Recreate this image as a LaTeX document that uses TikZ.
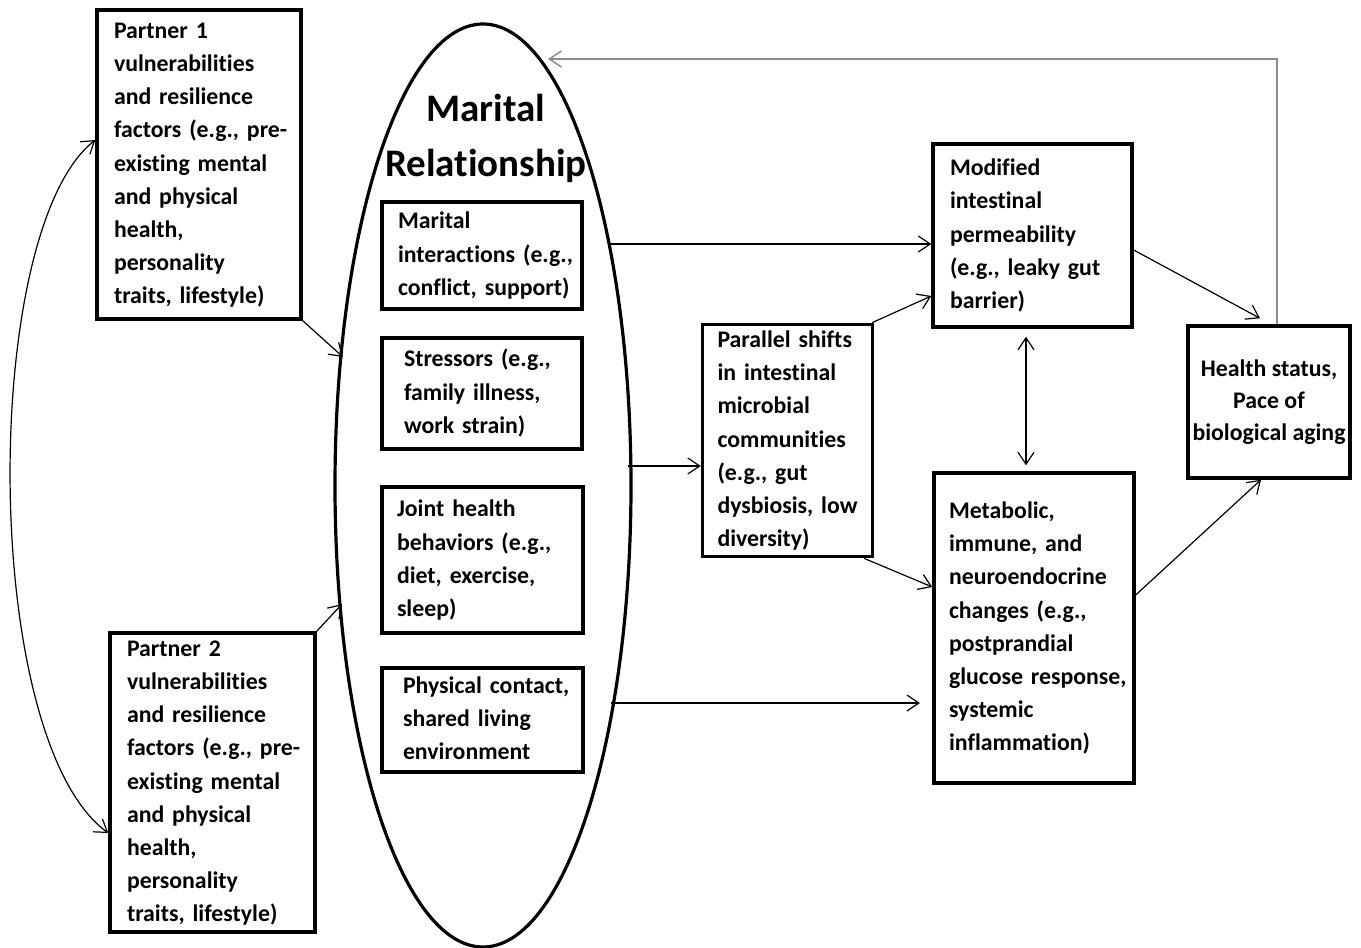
\documentclass[tikz,border=0pt]{standalone}
\usepackage{fontspec}
\setmainfont{Carlito}[Ligatures=NoCommon]
\usetikzlibrary{arrows.meta,shapes.geometric}
\newcommand\mylines[1]{\begin{tabular}{@{}l@{}}#1\end{tabular}}
\newcommand\mylinesc[1]{\begin{tabular}{@{}c@{}}#1\end{tabular}}
\begin{document}
\begin{tikzpicture}[x=0.5pt,y=-0.5pt,
  bx/.style={draw, line width=1.7pt, inner ysep=0pt, align=left,
    font=\bfseries\fontsize{11.9}{16.6}\selectfont},
  arr/.style={-{Straight Barb[length=6pt,width=8pt]}, line width=0.6pt},
  darr/.style={{Straight Barb[length=6pt,width=8pt]}-{Straight Barb[length=6pt,width=8pt]}, line width=0.6pt},
  garr/.style={arr, draw=black!45, line width=0.75pt}]
\useasboundingbox (0,0) rectangle (1361,948);
\fill[white] (0,0) rectangle (1361,948);

% ellipse and title
\node[ellipse, draw, line width=1.6pt, minimum width=148pt, minimum height=461.5pt, inner sep=0pt] (ell) at (483,485.5) {};
\node[font=\bfseries\fontsize{19.5}{27.5}\selectfont, align=center, inner sep=0pt] (title) at (486,138) {Marital\\Relationship};

% partner boxes
\node[bx, text width=85pt, inner xsep=8.5pt, minimum height=154.5pt] (p1) at (199,164.5)
  {\mylines{Partner 1\\vulnerabilities\\and resilience\\factors (e.g., pre-\\existing mental\\and physical\\health,\\personality\\traits, lifestyle)}};
\node[bx, text width=85.5pt, inner xsep=8.5pt, minimum height=149.5pt] (p2) at (212.5,782.5)
  {\mylines{Partner 2\\vulnerabilities\\and resilience\\factors (e.g., pre-\\existing mental\\and physical\\health,\\personality\\traits, lifestyle)}};

% inner boxes
\node[bx, text width=84pt, inner xsep=8pt, minimum height=53.5pt] (m1) at (482,255.5)
  {\mylines{Marital\\interactions (e.g.,\\conflict, support)}};
\node[bx, text width=78pt, inner xsep=11pt, minimum height=55.5pt] (m2) at (482,393.5)
  {\mylines{Stressors (e.g.,\\family illness,\\work strain)}};
\node[bx, text width=85.5pt, inner xsep=7.5pt, minimum height=73pt] (m3) at (482.5,560)
  {\mylines{Joint health\\behaviors (e.g.,\\diet, exercise,\\sleep)}};
\node[bx, text width=79.5pt, inner xsep=10.5pt, minimum height=52pt] (m4) at (482.5,720)
  {\mylines{Physical contact,\\shared living\\environment}};

% right side boxes
\node[bx, text width=70pt, inner xsep=7.5pt, minimum height=114.5pt] (par) at (787.5,440.5)
  {\mylines{Parallel shifts\\in intestinal\\microbial\\communities\\(e.g., gut\\dysbiosis, low\\diversity)}};
\node[bx, text width=82.5pt, inner xsep=8.5pt, minimum height=91.5pt] (mod) at (1032.5,235.5)
  {\raisebox{1.5pt}{\mylines{Modified\\intestinal\\permeability\\(e.g., leaky gut\\barrier)}}};
\node[bx, text width=85pt, inner xsep=7.5pt, minimum height=155pt] (met) at (1034,628)
  {\mylines{Metabolic,\\immune, and\\neuroendocrine\\changes (e.g.,\\postprandial\\glucose response,\\systemic\\inflammation)}};
\node[bx, align=center, minimum width=81pt, minimum height=76pt, inner xsep=0pt,
  font=\bfseries\fontsize{11.9}{16}\selectfont] (hs) at (1269,402)
  {\raisebox{3pt}{\mylinesc{Health status,\\Pace of\\biological aging}}};

% free ends on the ellipse
\coordinate (e1) at (343,357);
\coordinate (e2) at (342,604);
\coordinate (e3) at (609,244);
\coordinate (e4) at (628,466);
\coordinate (e5) at (611,703);
\coordinate (t5) at (920,703);
\coordinate (fb) at (548,59);

% connectors
\draw[darr] ([yshift=12.25pt]p1.west) .. controls (-20,230) and (-20,740) .. ([yshift=-25.25pt]p2.west);
\draw[arr] (p1.south east) -- (e1);
\draw[arr] (p2.north east) -- (e2);
\draw[arr] (e3) -- (mod.west |- e3);
\draw[arr] (e4) -- (par.west |- e4);
\draw[arr] (e5) -- (t5);
\draw[arr] ([xshift=-1pt]par.north east) -- ([yshift=-30.25pt]mod.west);
\draw[arr] ([xshift=-5pt]par.south east) -- ([yshift=20.5pt]met.west);
\draw[darr, shorten <=4pt, shorten >=3pt] ([xshift=-3.25pt]mod.south) -- ([xshift=-4pt]met.north);
\draw[arr] ([yshift=-7.25pt]mod.east) -- ([xshift=-4.5pt,yshift=3pt]hs.north);
\draw[arr] ([yshift=16.5pt]met.east) -- ([xshift=-4pt]hs.south);
\draw[garr] ([xshift=4pt]hs.north) |- (fb);
\end{tikzpicture}
\end{document}
